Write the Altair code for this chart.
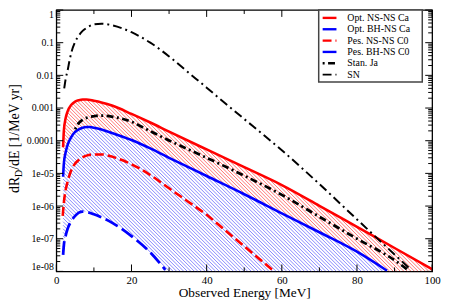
import altair as alt
import numpy as np
import pandas as pd

# ---------------- data ----------------
opt_nsns_x = [1.8, 2.0, 2.5, 3, 4, 5, 6, 7, 8, 10, 12, 15, 20, 25, 30, 40, 50, 60, 70, 80, 90, 100]
opt_nsns_y = [6.3e-5, 2.0e-4, 5.0e-4, 7.9e-4, 1.26e-3, 1.58e-3, 1.74e-3, 1.82e-3, 1.82e-3, 1.66e-3, 1.48e-3,
              1.17e-3, 6.6e-4, 3.6e-4, 1.9e-4, 5.4e-5, 1.55e-5, 4.4e-6, 1.02e-6, 2.3e-7, 5.2e-8, 1.17e-8]

opt_bhns_x = [1.8, 2.0, 2.5, 3, 4, 5, 6, 7, 8, 9, 10, 12, 15, 20, 25, 30, 40, 50, 60, 70, 80, 88]
opt_bhns_y = [7.9e-6, 2.0e-5, 4.5e-5, 7.4e-5, 1.32e-4, 1.86e-4, 2.24e-4, 2.5e-4, 2.63e-4, 2.63e-4, 2.5e-4,
              2.2e-4, 1.7e-4, 1.05e-4, 5.8e-5, 3.0e-5, 8.3e-6, 2.3e-6, 6.0e-7, 1.58e-7, 4.0e-8, 1.05e-8]

pes_nsns_x = [1.7, 2.0, 2.5, 3, 4, 5, 6, 8, 10, 12, 15, 20, 25, 30, 35, 40, 45, 50, 55, 58]
pes_nsns_y = [5.0e-7, 1.26e-6, 3.2e-6, 5.6e-6, 1.26e-5, 2.0e-5, 2.6e-5, 3.5e-5, 3.8e-5, 3.8e-5, 3.2e-5,
              1.9e-5, 8.9e-6, 3.5e-6, 1.38e-6, 5.4e-7, 1.78e-7, 5.9e-8, 1.95e-8, 1.0e-8]

pes_bhns_x = [1.8, 2.0, 2.5, 3, 4, 5, 6, 7, 8, 10, 12, 15, 20, 25, 29]
pes_bhns_y = [3.2e-8, 6.3e-8, 1.26e-7, 2.0e-7, 3.5e-7, 5.0e-7, 6.3e-7, 6.8e-7, 6.6e-7, 5.6e-7, 4.5e-7,
              3.0e-7, 1.2e-7, 3.8e-8, 1.12e-8]

stan_x = [5, 6, 7, 8, 10, 12, 15, 20, 25, 30, 40, 50, 60, 70, 80, 90, 93.5]
stan_y = [2.24e-4, 3.5e-4, 4.4e-4, 5.0e-4, 5.6e-4, 5.9e-4, 5.4e-4, 3.8e-4, 1.95e-4, 1.02e-4, 3.0e-5,
          8.5e-6, 2.2e-6, 4.7e-7, 1.0e-7, 2.2e-8, 1.12e-8]

sn_x = [2.1, 2.5, 3, 3.5, 4, 5, 6, 7, 8, 10, 12, 15, 20, 25, 30, 35, 40, 45, 50, 55, 60, 70, 80, 90, 94.4]
sn_y = [4.0e-3, 7.9e-3, 1.41e-2, 2.8e-2, 5.0e-2, 0.105, 0.166, 0.229, 0.282, 0.363, 0.38, 0.339, 0.209,
        0.1, 0.038, 0.0126, 4.2e-3, 1.38e-3, 4.6e-4, 1.55e-4, 5.1e-5, 4.7e-6, 3.9e-7, 3.3e-8, 1.12e-8]

series_names = ["Opt. NS-NS Ca", "Opt. BH-NS Ca", "Pes. NS-NS C0", "Pes. BH-NS C0", "Stan. Ja", "SN"]

x_major = [0, 20, 40, 60, 80, 100]
x_minor = [10, 30, 50, 70, 90]
y_major = [1e-8, 1e-7, 1e-6, 1e-5, 1e-4, 1e-3, 1e-2, 1e-1, 1]
y_tick_labels = ["1e-08", "1e-07", "1e-06", "1e-05", "0.0001", "0.001", "0.01", "0.1", "1"]
x_title = "Observed Energy [MeV]"

# ---------------- layout / style ----------------
W, H = 381, 265
FONT = "Liberation Serif"
sx, sy = W / 100.0, H / 8.0

xscale = alt.Scale(domain=[0, 100], nice=False, zero=False)
yscale = alt.Scale(type="log", domain=[1e-8, 1], nice=False)

label_expr = "[" + ",".join("'%s'" % s for s in y_tick_labels) + "][round(log(datum.value)/LN10)+8]"

x_axis = alt.Axis(values=x_major, title=x_title, ticks=False, domain=False, grid=False,
                  labelFont=FONT, labelFontSize=11, labelColor="black", labelPadding=3,
                  labelFlush=False, format="d", titleFont=FONT, titleFontSize=13.5,
                  titleFontWeight="normal", titleColor="black", titlePadding=0)
y_axis = alt.Axis(values=y_major, title=None, ticks=False, domain=False, grid=False,
                  labelFont=FONT, labelFontSize=10, labelColor="black", labelPadding=3,
                  labelFlush=True, labelOverlap=False, labelExpr=label_expr)


def X(f):
    return alt.X(f, type="quantitative", scale=xscale, axis=x_axis)


def Y(f):
    return alt.Y(f, type="quantitative", scale=yscale, axis=y_axis)


def to_v(logy):
    return (np.asarray(logy) + 8.0) * sy


def hatch_segments(upper, lower, excl=None, spacing=3.6):
    xu, yu = upper
    xl, yl = lower
    us = np.arange(xu[0] * sx, xu[-1] * sx, 0.2)
    xs = us / sx
    Uv = to_v(np.interp(xs, xu, np.log10(yu)))
    Lv = np.maximum(to_v(np.interp(xs, xl, np.log10(yl), left=-8, right=-8)), 0)
    if excl is not None:
        (eux, euy), (elx, ely) = excl
        EUv = to_v(np.interp(xs, eux, np.log10(euy), left=-9, right=-9))
        ELv = np.maximum(to_v(np.interp(xs, elx, np.log10(ely), left=-8, right=-8)), 0)
    segs = []
    for c in np.arange(us[0], us[-1] + H + spacing, spacing):
        vs = c - us
        m = (vs <= Uv) & (vs >= Lv) & (vs >= 0) & (vs <= H)
        if excl is not None:
            m &= ~((vs <= EUv) & (vs >= ELv))
        idx = np.flatnonzero(np.diff(np.concatenate([[0], m.astype(int), [0]])))
        for a, b in zip(idx[::2], idx[1::2]):
            b -= 1
            if b <= a:
                continue
            segs.append((us[a] / sx, 10 ** (vs[a] / sy - 8), us[b] / sx, 10 ** (vs[b] / sy - 8)))
    return pd.DataFrame(segs, columns=["x", "y", "x2", "y2"])


red_up = (opt_nsns_x, opt_nsns_y)
red_lo = (pes_nsns_x, pes_nsns_y)
blue_up = (opt_bhns_x, opt_bhns_y)
blue_lo = (pes_bhns_x, pes_bhns_y)

red_hatch = hatch_segments(red_up, red_lo, excl=(blue_up, blue_lo))
blue_hatch = hatch_segments(blue_up, blue_lo)

layers = []
layers.append(alt.Chart(red_hatch).mark_rule(color="#ff2020", strokeWidth=0.9, opacity=0.7)
              .encode(x=X("x"), x2="x2", y=Y("y"), y2="y2"))
layers.append(alt.Chart(blue_hatch).mark_rule(color="#2020ff", strokeWidth=0.9, opacity=0.6)
              .encode(x=X("x"), x2="x2", y=Y("y"), y2="y2"))

styles = {
    "Opt. NS-NS Ca": dict(color="#ff0000", strokeWidth=2.6),
    "Opt. BH-NS Ca": dict(color="#0000ff", strokeWidth=2.6),
    "Pes. NS-NS C0": dict(color="#ff0000", strokeWidth=2.6, strokeDash=[9, 4]),
    "Pes. BH-NS C0": dict(color="#0000ff", strokeWidth=2.8, strokeDash=[14, 5]),
    "Stan. Ja": dict(color="#000000", strokeWidth=2.8, strokeDash=[2, 3.5, 7, 3.5]),
    "SN": dict(color="#000000", strokeWidth=2.0, strokeDash=[9, 4, 2, 4]),
}
series_data = {
    "Opt. NS-NS Ca": (opt_nsns_x, opt_nsns_y),
    "Opt. BH-NS Ca": (opt_bhns_x, opt_bhns_y),
    "Pes. NS-NS C0": (pes_nsns_x, pes_nsns_y),
    "Pes. BH-NS C0": (pes_bhns_x, pes_bhns_y),
    "Stan. Ja": (stan_x, stan_y),
    "SN": (sn_x, sn_y),
}
for name in ["Pes. BH-NS C0", "Pes. NS-NS C0", "Opt. BH-NS Ca", "Opt. NS-NS Ca", "Stan. Ja", "SN"]:
    xs, ys = series_data[name]
    df = pd.DataFrame({"x": xs, "y": ys})
    layers.append(alt.Chart(df).mark_line(interpolate="monotone", clip=True, **styles[name])
                  .encode(x=X("x"), y=Y("y")))

# inward ticks on all four sides
dxm = pd.DataFrame({"v": x_major})
dxn = pd.DataFrame({"v": x_minor})
y_minor = [k * d for d in y_major[:-1] for k in range(2, 10)]
dym = pd.DataFrame({"v": y_major})
dyn = pd.DataFrame({"v": y_minor})
tk = dict(color="black", strokeWidth=1)
for d, L in ((dxm, 7), (dxn, 4)):
    layers.append(alt.Chart(d).mark_rule(**tk).encode(x=X("v"), y=alt.value(H), y2=alt.value(H - L)))
    layers.append(alt.Chart(d).mark_rule(**tk).encode(x=X("v"), y=alt.value(0), y2=alt.value(L)))
for d, L in ((dym, 7), (dyn, 4)):
    layers.append(alt.Chart(d).mark_rule(**tk).encode(y=Y("v"), x=alt.value(0), x2=alt.value(L)))
    layers.append(alt.Chart(d).mark_rule(**tk).encode(y=Y("v"), x=alt.value(W), x2=alt.value(W - L)))

# legend box
one = pd.DataFrame({"a": [0]})
lx0, lx1, ly0, ly1 = 266, 371, 0, 73
layers.append(alt.Chart(one).mark_rect(fill="white", stroke="#444444", strokeWidth=1.5)
              .encode(x=alt.value(lx0), x2=alt.value(lx1), y=alt.value(ly0), y2=alt.value(ly1)))
for i, name in enumerate(series_names):
    yy = 8 + 11.5 * i
    st = dict(styles[name])
    st["strokeWidth"] = min(st["strokeWidth"], 2.4)
    layers.append(alt.Chart(one).mark_rule(**st)
                  .encode(x=alt.value(lx0 + 4), x2=alt.value(lx0 + 18), y=alt.value(yy)))
    layers.append(alt.Chart(one).mark_text(align="left", baseline="middle", font=FONT, fontSize=10,
                                           color="black")
                  .encode(x=alt.value(lx0 + 29), y=alt.value(yy), text=alt.value(name)))

# y title with subscript
tx = -38
yb = 185.5
layers.append(alt.Chart(one).mark_text(align="left", baseline="alphabetic", angle=270, font=FONT,
                                       fontSize=14, color="black")
              .encode(x=alt.value(tx), y=alt.value(yb), text=alt.value("dR")))
layers.append(alt.Chart(one).mark_text(align="left", baseline="alphabetic", angle=270, font=FONT,
                                       fontSize=10, color="black")
              .encode(x=alt.value(tx + 3), y=alt.value(yb - 16.3), text=alt.value("D")))
layers.append(alt.Chart(one).mark_text(align="left", baseline="alphabetic", angle=270, font=FONT,
                                       fontSize=14, color="black")
              .encode(x=alt.value(tx), y=alt.value(yb - 23.5), text=alt.value("/dE [1/MeV yr]")))

chart = (alt.layer(*layers)
         .properties(width=W, height=H,
                     padding={"left": 49, "top": 0, "right": 10, "bottom": 30},
                     autosize=alt.AutoSizeParams(type="none"))
         .configure(background="white")
         .configure_view(stroke="black", strokeWidth=1.3))

chart.save("out.html", embed_options={"renderer": "svg", "actions": False})
